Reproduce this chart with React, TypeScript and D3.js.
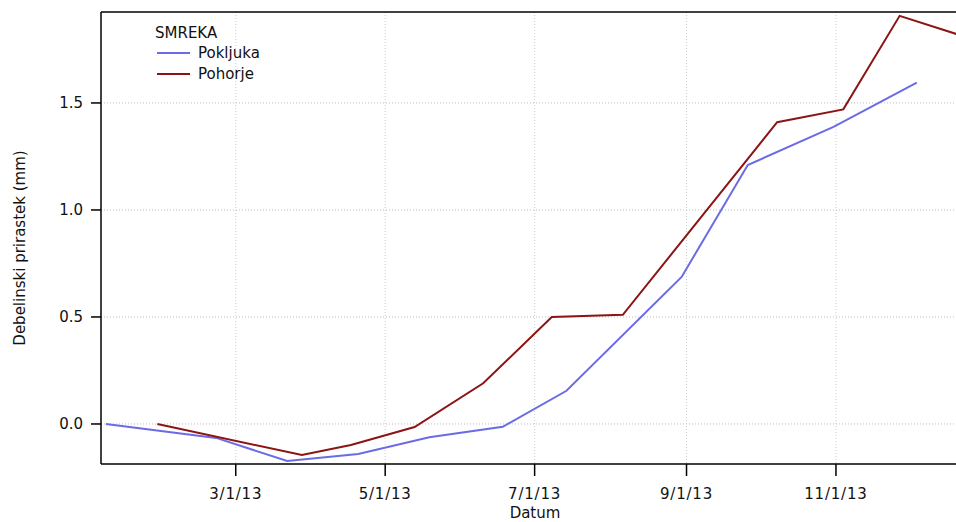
import React from 'react';
import * as d3 from 'd3';

// data (dates in 2013, values in mm)
const pokljukaDates = ['2013-01-07', '2013-02-21', '2013-03-22', '2013-04-20', '2013-05-19', '2013-06-18',
  '2013-07-14', '2013-08-30', '2013-09-26', '2013-10-31', '2013-12-04'];
const pokljukaValues = [0, -0.065, -0.173, -0.14, -0.062, -0.013, 0.155, 0.687, 1.21, 1.388, 1.595];

const pohorjeDates = ['2013-01-28', '2013-03-28', '2013-04-17', '2013-05-13', '2013-06-10', '2013-07-08',
  '2013-08-06', '2013-10-08', '2013-11-04', '2013-11-27', '2013-12-29'];
const pohorjeValues = [0, -0.145, -0.098, -0.014, 0.19, 0.50, 0.51, 1.41, 1.47, 1.907, 1.79];

const xTickDates = ['2013-03-01', '2013-05-01', '2013-07-01', '2013-09-01', '2013-11-01'];
const yTickValues = [0, 0.5, 1.0, 1.5];

const seriesNames = ['Pokljuka', 'Pohorje'];
const seriesColors = ['#6b6be6', '#8c1414'];
const legendTitle = 'SMREKA';

const width = 956;
const height = 522;
const margin = { top: 12, right: 0, bottom: 58, left: 101 };
const font = '"DejaVu Sans", Verdana, sans-serif';

const parse = d3.utcParse('%Y-%m-%d');

export default function App() {
  const x = d3.scaleUtc()
    .domain([parse('2013-01-05'), parse('2013-12-20')])
    .range([margin.left, width - margin.right]);
  const y = d3.scaleLinear()
    .domain([-0.187, 1.925])
    .range([height - margin.bottom, margin.top]);

  const fmt = d3.utcFormat('%-m/%-d/%y');
  const line = d3.line<[Date, number]>()
    .x((d) => x(d[0]))
    .y((d) => y(d[1]));

  const series = [
    pokljukaDates.map((d, i) => [parse(d), pokljukaValues[i]] as [Date, number]),
    pohorjeDates.map((d, i) => [parse(d), pohorjeValues[i]] as [Date, number]),
  ];

  const x0 = margin.left;
  const x1 = width - margin.right;
  const yBottom = height - margin.bottom;
  const yTop = margin.top;

  return (
    <svg width={width} height={height} style={{ position: 'absolute', left: 0, top: 0, background: '#fff' }}
      fontFamily={font}>
      <defs>
        <clipPath id="plot">
          <rect x={x0} y={yTop} width={x1 - x0} height={yBottom - yTop} />
        </clipPath>
      </defs>

      {/* grid */}
      {xTickDates.map((d) => (
        <line key={'gx' + d} x1={x(parse(d))} x2={x(parse(d))} y1={yTop} y2={yBottom}
          stroke="#cfcfcf" strokeWidth={1} strokeDasharray="1,2" />
      ))}
      {yTickValues.map((v) => (
        <line key={'gy' + v} x1={x0} x2={x1} y1={y(v)} y2={y(v)}
          stroke="#bdbdbd" strokeWidth={1} strokeDasharray="1,2" />
      ))}

      {/* lines */}
      <g clipPath="url(#plot)">
        {series.map((s, i) => (
          <path key={seriesNames[i]} d={line(s) || ''} fill="none" stroke={seriesColors[i]}
            strokeWidth={2} strokeLinejoin="miter" />
        ))}
      </g>

      {/* frame */}
      <line x1={x0} x2={x0} y1={yTop} y2={yBottom} stroke="#000" strokeWidth={1.5} />
      <line x1={x0} x2={x1} y1={yBottom} y2={yBottom} stroke="#000" strokeWidth={1.5} />
      <line x1={x0} x2={x1} y1={yTop} y2={yTop} stroke="#000" strokeWidth={1.5} />

      {/* y axis */}
      {yTickValues.map((v) => (
        <g key={'ty' + v}>
          <line x1={x0 - 10} x2={x0} y1={y(v)} y2={y(v)} stroke="#000" strokeWidth={1.5} />
          <text x={x0 - 18} y={y(v)} dy="0.36em" textAnchor="end" fontSize={15} fill="#111">
            {d3.format('.1f')(v)}
          </text>
        </g>
      ))}
      <text transform={`translate(25, ${(yTop + yBottom) / 2 + 10}) rotate(-90)`} textAnchor="middle"
        fontSize={15} fill="#111">Debelinski prirastek (mm)</text>

      {/* x axis */}
      {xTickDates.map((d) => (
        <g key={'tx' + d}>
          <line x1={x(parse(d))} x2={x(parse(d))} y1={yBottom} y2={yBottom + 12} stroke="#000" strokeWidth={1.5} />
          <text x={x(parse(d))} y={yBottom + 35} textAnchor="middle" fontSize={15} letterSpacing={0.8} fill="#111">
            {fmt(parse(d) as Date)}
          </text>
        </g>
      ))}
      <text x={535} y={518} textAnchor="middle" fontSize={15} fill="#111">Datum</text>

      {/* legend */}
      <text x={155} y={38} fontSize={15} fill="#111">{legendTitle}</text>
      {seriesNames.map((n, i) => (
        <g key={'lg' + n}>
          <line x1={157} x2={190} y1={53 + i * 21} y2={53 + i * 21} stroke={seriesColors[i]} strokeWidth={2} />
          <text x={198} y={53 + i * 21} dy="0.36em" fontSize={15} fill="#111">{n}</text>
        </g>
      ))}
    </svg>
  );
}
